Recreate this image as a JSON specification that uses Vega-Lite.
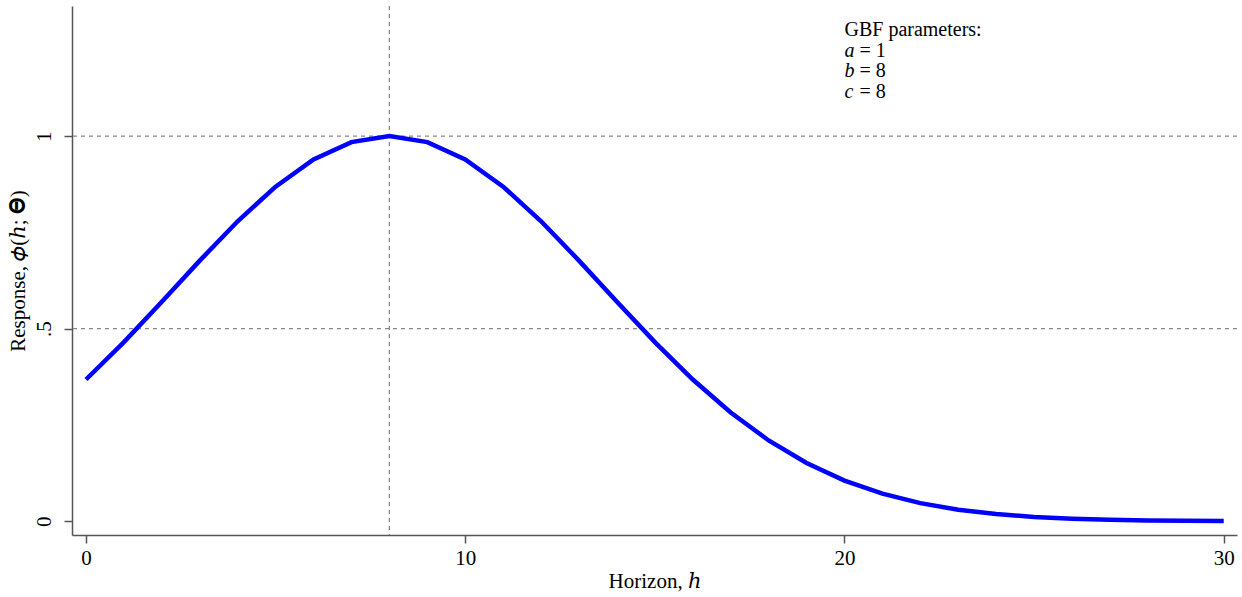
{
  "$schema": "https://vega.github.io/schema/vega-lite/v6.json",
  "width": 1165,
  "height": 529,
  "autosize": {"type": "none"},
  "padding": {"left": 72, "top": 6, "right": 5, "bottom": 62},
  "background": "white",
  "config": {
    "view": {"stroke": null},
    "font": "Liberation Serif",
    "axis": {"grid": false, "domainColor": "#555555", "tickColor": "#555555", "labelColor": "#000000", "titleColor": "#000000", "labelFont": "Liberation Serif", "titleFont": "Liberation Serif, DejaVu Serif", "labelFontSize": 21, "titleFontSize": 21, "titleFontWeight": "normal", "tickSize": 8, "domainWidth": 1.5, "tickWidth": 1.5}
  },
  "datasets": {
    "gbf": [
      {"h": 0, "r": 0.3679}, {"h": 1, "r": 0.4650}, {"h": 2, "r": 0.5698}, {"h": 3, "r": 0.6767},
      {"h": 4, "r": 0.7788}, {"h": 5, "r": 0.8688}, {"h": 6, "r": 0.9394}, {"h": 7, "r": 0.9845},
      {"h": 8, "r": 1.0}, {"h": 9, "r": 0.9845}, {"h": 10, "r": 0.9394}, {"h": 11, "r": 0.8688},
      {"h": 12, "r": 0.7788}, {"h": 13, "r": 0.6767}, {"h": 14, "r": 0.5698}, {"h": 15, "r": 0.4650},
      {"h": 16, "r": 0.3679}, {"h": 17, "r": 0.2821}, {"h": 18, "r": 0.2096}, {"h": 19, "r": 0.1510},
      {"h": 20, "r": 0.1054}, {"h": 21, "r": 0.0713}, {"h": 22, "r": 0.0468}, {"h": 23, "r": 0.0297},
      {"h": 24, "r": 0.0183}, {"h": 25, "r": 0.0109}, {"h": 26, "r": 0.0063}, {"h": 27, "r": 0.0036},
      {"h": 28, "r": 0.0019}, {"h": 29, "r": 0.0010}, {"h": 30, "r": 0.0005}
    ],
    "hlines": [{"y": 0.5}, {"y": 1}],
    "vlines": [{"x": 8}],
    "heading": [{"x": 20, "y": 1.2597, "t": "GBF parameters:"}],
    "params": [
      {"x": 20, "y": 1.2060, "v": "a", "t": "= 1"},
      {"x": 20, "y": 1.1525, "v": "b", "t": "= 8"},
      {"x": 20, "y": 1.0990, "v": "c", "t": "= 8"}
    ]
  },
  "layer": [
    {
      "data": {"name": "hlines"},
      "mark": {"type": "rule", "color": "#888888", "strokeDash": [4, 4], "strokeWidth": 1.3},
      "encoding": {"y": {"field": "y", "type": "quantitative", "scale": {"domain": [-0.036, 1.338], "nice": false, "zero": false}}}
    },
    {
      "data": {"name": "vlines"},
      "mark": {"type": "rule", "color": "#888888", "strokeDash": [4, 4], "strokeWidth": 1.3},
      "encoding": {"x": {"field": "x", "type": "quantitative", "scale": {"domain": [-0.369, 30.35], "nice": false, "zero": false}}}
    },
    {
      "data": {"name": "gbf"},
      "mark": {"type": "line", "color": "#0000ff", "strokeWidth": 4.5},
      "encoding": {
        "x": {"field": "h", "type": "quantitative", "scale": {"domain": [-0.369, 30.35], "nice": false, "zero": false},
              "axis": {"values": [0, 10, 20, 30], "title": "Horizon, ℎ", "labelPadding": 4, "titlePadding": 2}},
        "y": {"field": "r", "type": "quantitative", "scale": {"domain": [-0.036, 1.338], "nice": false, "zero": false},
              "axis": {"values": [0, 0.5, 1], "labelExpr": "datum.value == 0.5 ? '.5' : datum.value == 1 ? '1' : '0'", "labelAngle": -90, "labelAlign": "center", "labelBaseline": "bottom", "labelPadding": 10, "title": "Response, 𝜙(ℎ; 𝚯)", "titlePadding": 5}}
      }
    },
    {
      "data": {"name": "heading"},
      "mark": {"type": "text", "align": "left", "baseline": "alphabetic", "fontSize": 20, "color": "#000000"},
      "encoding": {
        "x": {"field": "x", "type": "quantitative"},
        "y": {"field": "y", "type": "quantitative"},
        "text": {"field": "t"}
      }
    },
    {
      "data": {"name": "params"},
      "mark": {"type": "text", "align": "left", "baseline": "alphabetic", "fontSize": 20, "fontStyle": "italic", "color": "#000000"},
      "encoding": {
        "x": {"field": "x", "type": "quantitative"},
        "y": {"field": "y", "type": "quantitative"},
        "text": {"field": "v"}
      }
    },
    {
      "data": {"name": "params"},
      "mark": {"type": "text", "align": "left", "baseline": "alphabetic", "fontSize": 20, "dx": 15, "color": "#000000"},
      "encoding": {
        "x": {"field": "x", "type": "quantitative"},
        "y": {"field": "y", "type": "quantitative"},
        "text": {"field": "t"}
      }
    }
  ]
}
